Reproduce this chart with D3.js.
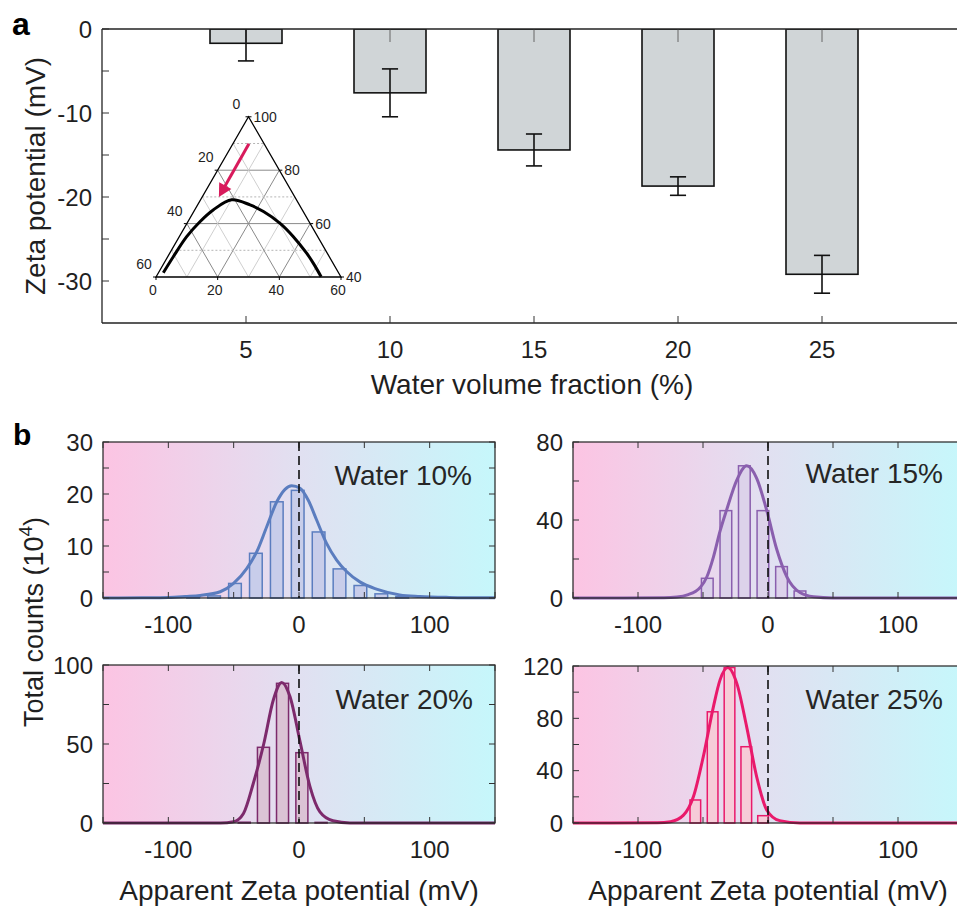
<!DOCTYPE html>
<html><head><meta charset="utf-8">
<script src="https://cdn.jsdelivr.net/npm/d3@7"></script>
<style>
body{margin:0;background:#fff}
svg{display:block}
text{font-family:"Liberation Sans",Arial,Helvetica,sans-serif;fill:#1f1f1f}
</style>
</head><body>
<svg id="c" width="957" height="907"></svg>
<script>
// ---------------- DATA ----------------
// Panel a
const waterFractions = [5, 10, 15, 20, 25];
const zetaMeans = [-1.7, -7.6, -14.4, -18.7, -29.2];
const zetaErrors = [2.1, 2.85, 1.9, 1.1, 2.25];
const zetaTickLabels = [0, -10, -20, -30];
const zetaMinorTicks = [0, -5, -10, -15, -20, -25, -30];

// Inset ternary diagram
const ternBottomLabels = [0, 20, 40, 60];
const ternLeftLabels = [60, 40, 20, 0];
const ternRightLabels = [40, 60, 80, 100];
const binodalB = [1.57, 1.81, 2.4, 3.9, 6.0, 10.1, 17.0, 22.6, 30.2, 37.0, 44.4, 48.5, 53.5];
const binodalR = [41.6, 47.6, 55.1, 60.7, 65.1, 68.9, 67.0, 64.5, 60.1, 55.1, 48.9, 45.1, 40.1];
const arrowB = [5.2, 5.4];
const arrowR = [89.9, 70.0];

// Panel b histograms (bin centre in mV, counts in 10^4)
const hist10Centers = [-81, -65, -49, -33, -17, -1, 15, 31, 47, 63, 79];
const hist10Counts  = [0.2, 0.4, 2.8, 8.6, 18.5, 20.7, 12.7, 5.6, 2.4, 0.8, 0.3];
const fit10X = [-150, -120, -100, -87, -75.6, -60.3, -50.1, -39.9, -32.3, -24.7, -17, -10.7, -5.6, 0.8, 7.1, 13.5, 21.1, 28.8, 36.4, 46.6, 59.3, 77.1, 92.4, 115, 150];
const fit10Y = [0.0, 0.05, 0.12, 0.3, 0.5, 1.2, 2.8, 5.7, 8.9, 13.7, 18.5, 20.9, 21.6, 21.1, 18.8, 15.0, 10.5, 7.3, 5.1, 3.1, 1.7, 0.6, 0.3, 0.12, 0.03];

const hist15Centers = [-46.7, -32.4, -18.2, -3.9, 10.4, 24.6];
const hist15Counts  = [10.1, 44.8, 67.8, 44.8, 16.1, 3.6];
const fit15X = [-150, -80, -70, -62, -52, -47, -42, -37, -32, -24, -16.4, -8.7, -1, 6.7, 14.4, 24.6, 35, 50, 150];
const fit15Y = [0, 0.1, 0.5, 1.6, 5.5, 10.9, 21, 34, 44.8, 60.5, 67.8, 61.4, 45, 25, 11, 2.8, 0.6, 0, 0];

const hist20Centers = [-41.9, -27.2, -12.6, 2.2, 16.9];
const hist20Counts  = [0.5, 47.9, 88.4, 44.5, 0.4];
const fit20X = [-150, -60, -50, -42.5, -35, -27, -19.6, -13.2, -6.9, 0.8, 8.4, 16, 26, 39, 150];
const fit20Y = [0, 0, 0.8, 6, 25, 50, 78, 89, 80, 51.5, 23, 7, 1.4, 0, 0];

const hist25Centers = [-55.9, -42.6, -29.6, -16.7, -3.8];
const hist25Counts  = [17.6, 85, 118.8, 58.3, 5.6];
const fit25X = [-150, -85, -75, -65, -57.4, -49.8, -42, -37, -31, -24, -16.4, -8.7, -1, 9, 24.6, 150];
const fit25Y = [0, 0.2, 1, 6, 20, 50.6, 88.8, 109, 118.8, 106.7, 73.5, 35.3, 10, 1.8, 0, 0];

const bXTickLabels = [-100, 0, 100];
const bXMinorTicks = [-150, -100, -50, 0, 50, 100, 150];

// ---------------- DRAW ----------------
const svg = d3.select("#c");
const defs = svg.append("defs");
const grad = defs.append("linearGradient").attr("id", "bgGrad");
grad.append("stop").attr("offset", "0%").attr("stop-color", "#fcc4e3");
grad.append("stop").attr("offset", "50%").attr("stop-color", "#e1e0f1");
grad.append("stop").attr("offset", "100%").attr("stop-color", "#c6f7fb");

// Panel labels
svg.append("text").attr("x", 12).attr("y", 35).attr("font-size", 32).attr("font-weight", "bold").style("fill", "#000").text("a");
svg.append("text").attr("x", 13).attr("y", 445).attr("font-size", 30).attr("font-weight", "bold").style("fill", "#000").text("b");

// ---------- Panel a ----------
const ax = d3.scaleLinear().domain([0, 30]).range([102, 966]);
const ay = d3.scaleLinear().domain([-35, 0]).range([323, 29]);
defs.append("clipPath").attr("id", "clipA").append("rect")
  .attr("x", ax(0)).attr("y", ay(0)).attr("width", ax(30) - ax(0)).attr("height", ay(-35) - ay(0));
const gA = svg.append("g");
const gBars = gA.append("g").attr("clip-path", "url(#clipA)");
const barHalf = 1.25, capHalf = 0.28;
waterFractions.forEach((w, i) => {
  const m = zetaMeans[i], e = zetaErrors[i];
  gBars.append("rect")
    .attr("x", ax(w - barHalf)).attr("y", ay(0))
    .attr("width", ax(w + barHalf) - ax(w - barHalf)).attr("height", ay(m) - ay(0))
    .attr("fill", "#d0d5d7").attr("stroke", "#111").attr("stroke-width", 1.6);
  // top tick
  gBars.append("line").attr("x1", ax(w)).attr("x2", ax(w)).attr("y1", ay(0)).attr("y2", ay(0) + 13)
    .attr("stroke", "#666").attr("stroke-width", 1);
  // error bar
  gBars.append("line").attr("x1", ax(w)).attr("x2", ax(w)).attr("y1", ay(m + e)).attr("y2", ay(m - e))
    .attr("stroke", "#111").attr("stroke-width", 1.6);
  [m + e, m - e].forEach(v => {
    gBars.append("line").attr("x1", ax(w - capHalf)).attr("x2", ax(w + capHalf)).attr("y1", ay(v)).attr("y2", ay(v))
      .attr("stroke", "#111").attr("stroke-width", 1.6);
  });
});
// frame
gA.append("line").attr("x1", ax(0)).attr("x2", ax(30)).attr("y1", ay(0)).attr("y2", ay(0)).attr("stroke", "#222").attr("stroke-width", 1.3);
gA.append("line").attr("x1", ax(0)).attr("x2", ax(30)).attr("y1", ay(-35)).attr("y2", ay(-35)).attr("stroke", "#222").attr("stroke-width", 1.3);
gA.append("line").attr("x1", ax(0)).attr("x2", ax(0)).attr("y1", ay(0)).attr("y2", ay(-35)).attr("stroke", "#222").attr("stroke-width", 1.3);
// ticks
zetaMinorTicks.forEach(v => {
  gA.append("line").attr("x1", ax(0)).attr("x2", ax(0) + 7).attr("y1", ay(v)).attr("y2", ay(v)).attr("stroke", "#333");
});
waterFractions.forEach(w => {
  gA.append("line").attr("x1", ax(w)).attr("x2", ax(w)).attr("y1", ay(-35)).attr("y2", ay(-35) - 7).attr("stroke", "#333");
  gA.append("text").attr("x", ax(w)).attr("y", 358).attr("text-anchor", "middle").attr("font-size", 24).text(w);
});
zetaTickLabels.forEach(v => {
  gA.append("text").attr("x", 92).attr("y", ay(v) + 9).attr("text-anchor", "end").attr("font-size", 24).text(v);
});
gA.append("text").attr("transform", "translate(45,176) rotate(-90)").attr("text-anchor", "middle").attr("font-size", 28).text("Zeta potential (mV)");
gA.append("text").attr("x", 532).attr("y", 394).attr("text-anchor", "middle").attr("font-size", 28).text("Water volume fraction (%)");

// ---------- Inset ternary ----------
const tS = d3.scaleLinear().domain([0, 60]).range([0, 185]);
const tOrigin = [156, 277];
function tern(b, r) {
  const h = r - 40;
  return [tOrigin[0] + tS(b) + tS(h) / 2, tOrigin[1] - tS(h) * Math.sqrt(3) / 2];
}
const gT = svg.append("g");
for (let k = 10; k <= 50; k += 10) {
  const major = (k === 20 || k === 40);
  const lines = [
    [tern(0, 40 + k), tern(60 - k, 40 + k), "h"],
    [tern(k, 40), tern(k, 100 - k), "d"],
    [tern(k, 40), tern(0, 40 + k), "d"]
  ];
  lines.forEach(([p, q, t]) => {
    const l = gT.append("line").attr("x1", p[0]).attr("y1", p[1]).attr("x2", q[0]).attr("y2", q[1]);
    if (major) l.attr("stroke", "#8a8a8a").attr("stroke-width", 1);
    else if (t === "h") l.attr("stroke", "#b5b5b5").attr("stroke-width", 1).attr("stroke-dasharray", "2,2");
    else l.attr("stroke", "#cfcfcf").attr("stroke-width", 1);
  });
}
const vL = tern(0, 40), vR = tern(60, 40), vT = tern(0, 100);
gT.append("path").attr("d", `M${vL}L${vR}L${vT}Z`).attr("fill", "none").attr("stroke", "#000").attr("stroke-width", 1.3);
// ticks and labels
ternBottomLabels.forEach(b => {
  const p = tern(b, 40);
  gT.append("line").attr("x1", p[0]).attr("x2", p[0]).attr("y1", p[1]).attr("y2", p[1] + 3).attr("stroke", "#000");
  gT.append("text").attr("x", p[0] - 3).attr("y", p[1] + 18).attr("text-anchor", "middle").attr("font-size", 14).text(b);
});
ternLeftLabels.forEach(L => {
  const p = tern(0, 100 - L);
  gT.append("line").attr("x1", p[0] - 3).attr("x2", p[0]).attr("y1", p[1]).attr("y2", p[1]).attr("stroke", "#000");
  gT.append("text").attr("x", p[0] - 12).attr("y", p[1] - 8).attr("text-anchor", "middle").attr("font-size", 14).text(L);
});
ternRightLabels.forEach(r => {
  const p = tern(100 - r, r);
  gT.append("line").attr("x1", p[0]).attr("x2", p[0] + 3).attr("y1", p[1]).attr("y2", p[1]).attr("stroke", "#000");
  gT.append("text").attr("x", p[0] + 5).attr("y", p[1] + 5).attr("font-size", 14).text(r);
});
// binodal curve
const binodal = binodalB.map((b, i) => tern(b, binodalR[i]));
gT.append("path").attr("d", d3.line().curve(d3.curveCatmullRom)(binodal))
  .attr("fill", "none").attr("stroke", "#000").attr("stroke-width", 3);
// arrow
const a0 = tern(arrowB[0], arrowR[0]), a1 = tern(arrowB[1], arrowR[1]);
const dx = a1[0] - a0[0], dy = a1[1] - a0[1], len = Math.hypot(dx, dy);
const ux = dx / len, uy = dy / len, px = -uy, py = ux;
const headL = 13, headW = 7;
const base = [a1[0] - ux * headL, a1[1] - uy * headL];
gT.append("line").attr("x1", a0[0]).attr("y1", a0[1]).attr("x2", base[0] + ux * 2).attr("y2", base[1] + uy * 2)
  .attr("stroke", "#d81b5c").attr("stroke-width", 3);
gT.append("path").attr("d", `M${a1}L${[base[0] + px * headW, base[1] + py * headW]}L${[base[0] - px * headW, base[1] - py * headW]}Z`)
  .attr("fill", "#d81b5c");

// ---------- Panel b ----------
const panels = [
  {label: "Water 10%", color: "#5b7dbf", fill: "#c8cdea", centers: hist10Centers, counts: hist10Counts, binW: 9.7,
   fx: fit10X, fy: fit10Y, yMax: 30, yLabels: [0, 10, 20, 30], yStep: 5,
   x0: 103, x1: 495, yT: 442, yB: 598, lx: 472, ly: 485},
  {label: "Water 15%", color: "#8a5fae", fill: "#dcd2ea", centers: hist15Centers, counts: hist15Counts, binW: 9.0,
   fx: fit15X, fy: fit15Y, yMax: 80, yLabels: [0, 40, 80], yStep: 20,
   x0: 573, x1: 963, yT: 442, yB: 598, lx: 943, ly: 483},
  {label: "Water 20%", color: "#7d2a6c", fill: "#dbc3d5", centers: hist20Centers, counts: hist20Counts, binW: 9.2,
   fx: fit20X, fy: fit20Y, yMax: 100, yLabels: [0, 50, 100], yStep: 25,
   x0: 103, x1: 495, yT: 665, yB: 823, lx: 473, ly: 709},
  {label: "Water 25%", color: "#e91a6b", fill: "#f6ccd8", centers: hist25Centers, counts: hist25Counts, binW: 8.2,
   fx: fit25X, fy: fit25Y, yMax: 120, yLabels: [0, 40, 80, 120], yStep: 20,
   x0: 573, x1: 963, yT: 666, yB: 823, lx: 943, ly: 709}
];

panels.forEach((p, idx) => {
  const x = d3.scaleLinear().domain([-150, 150]).range([p.x0, p.x1]);
  const y = d3.scaleLinear().domain([0, p.yMax]).range([p.yB, p.yT]);
  const g = svg.append("g");
  const cid = "clipB" + idx;
  defs.append("clipPath").attr("id", cid).append("rect")
    .attr("x", p.x0).attr("y", p.yT - 4).attr("width", p.x1 - p.x0).attr("height", p.yB - p.yT + 8);
  g.append("rect").attr("x", p.x0).attr("y", p.yT).attr("width", p.x1 - p.x0).attr("height", p.yB - p.yT)
    .attr("fill", "url(#bgGrad)");
  const gp = g.append("g").attr("clip-path", `url(#${cid})`);
  p.centers.forEach((c, i) => {
    gp.append("rect")
      .attr("x", x(c - p.binW / 2)).attr("width", x(c + p.binW / 2) - x(c - p.binW / 2))
      .attr("y", y(p.counts[i])).attr("height", y(0) - y(p.counts[i]))
      .attr("fill", p.fill).attr("stroke", p.color).attr("stroke-width", 1.5);
  });
  // frame
  g.append("rect").attr("x", p.x0).attr("y", p.yT).attr("width", p.x1 - p.x0).attr("height", p.yB - p.yT)
    .attr("fill", "none").attr("stroke", "#222").attr("stroke-width", 1.2);
  // ticks
  bXMinorTicks.forEach(v => {
    g.append("line").attr("x1", x(v)).attr("x2", x(v)).attr("y1", p.yB).attr("y2", p.yB - 6).attr("stroke", "#333");
    g.append("line").attr("x1", x(v)).attr("x2", x(v)).attr("y1", p.yT).attr("y2", p.yT + 6).attr("stroke", "#333");
  });
  d3.range(0, p.yMax + 0.001, p.yStep).forEach(v => {
    g.append("line").attr("x1", p.x0).attr("x2", p.x0 + 6).attr("y1", y(v)).attr("y2", y(v)).attr("stroke", "#333");
    g.append("line").attr("x1", p.x1).attr("x2", p.x1 - 6).attr("y1", y(v)).attr("y2", y(v)).attr("stroke", "#333");
  });
  // dashed zero line
  g.append("line").attr("x1", x(0)).attr("x2", x(0)).attr("y1", p.yT).attr("y2", p.yB)
    .attr("stroke", "#111").attr("stroke-width", 1.6).attr("stroke-dasharray", "9,5");
  // fit curve
  const pts = p.fx.map((v, i) => [x(v), y(p.fy[i])]);
  gp.append("path").attr("d", d3.line().curve(d3.curveMonotoneX)(pts))
    .attr("fill", "none").attr("stroke", p.color).attr("stroke-width", 3);
  // tick labels
  bXTickLabels.forEach(v => {
    g.append("text").attr("x", x(v)).attr("y", p.yB + 35).attr("text-anchor", "middle").attr("font-size", 24).text(v);
  });
  p.yLabels.forEach(v => {
    g.append("text").attr("x", p.x0 - 10).attr("y", y(v) + 8.5).attr("text-anchor", "end").attr("font-size", 24).text(v);
  });
  g.append("text").attr("x", p.lx).attr("y", p.ly).attr("text-anchor", "end").attr("font-size", 28)
    .style("fill", "#262626").text(p.label);
});

// panel b axis titles
const yt = svg.append("text").attr("transform", "translate(43,622) rotate(-90)").attr("text-anchor", "middle").attr("font-size", 27);
yt.append("tspan").text("Total counts (10");
yt.append("tspan").attr("dy", -11).attr("font-size", 19).text("4");
yt.append("tspan").attr("dy", 11).text(")");
svg.append("text").attr("x", 299).attr("y", 900).attr("text-anchor", "middle").attr("font-size", 28).text("Apparent Zeta potential (mV)");
svg.append("text").attr("x", 768).attr("y", 900).attr("text-anchor", "middle").attr("font-size", 28).text("Apparent Zeta potential (mV)");
</script>
</body></html>
